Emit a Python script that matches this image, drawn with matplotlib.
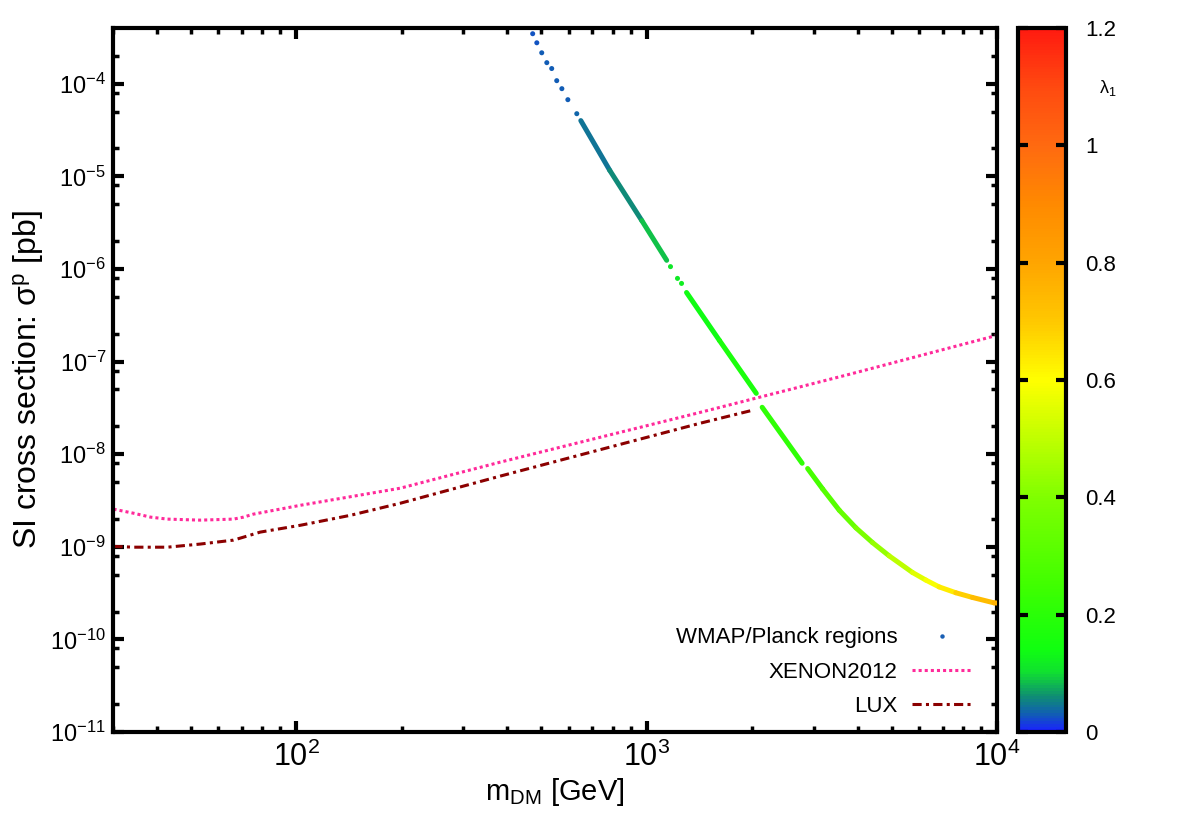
import numpy as np
import matplotlib
matplotlib.use("Agg")
import matplotlib.pyplot as plt
from matplotlib.colors import LinearSegmentedColormap, Normalize
from matplotlib.collections import LineCollection
from matplotlib.lines import Line2D
from matplotlib.ticker import LogLocator, FixedLocator, NullFormatter

plt.rcParams["font.family"] = ["Liberation Sans", "DejaVu Sans"]
plt.rcParams["mathtext.fontset"] = "custom"
plt.rcParams["mathtext.rm"] = "Liberation Sans"
plt.rcParams["mathtext.default"] = "regular"

# --- datos ---
# puntos aislados WMAP/Planck
dots_m = [473, 486, 502, 519, 536, 554, 573, 596, 632, 1170, 1225, 1258]
dots_sigma = [3.47e-4, 2.77e-4, 2.16e-4, 1.69e-4, 1.46e-4, 1.08e-4, 8.85e-5,
              6.73e-5, 4.75e-5, 1.06e-6, 7.91e-7, 6.98e-7]
dots_lam = [0.028, 0.028, 0.029, 0.029, 0.030, 0.030, 0.031, 0.032, 0.034,
            0.11, 0.115, 0.12]

# tramos continuos WMAP/Planck
segA_m = [649, 785, 969, 1141]
segA_sigma = [4.0e-5, 1.16e-5, 3.33e-6, 1.24e-6]
segA_lam = [0.038, 0.05, 0.07, 0.10]

segB_m = [1300, 1614, 2056]
segB_sigma = [5.57e-7, 1.69e-7, 4.54e-8]
segB_lam = [0.125, 0.15, 0.18]

segC_m = [2137, 2779]
segC_sigma = [3.21e-8, 7.98e-9]
segC_lam = [0.19, 0.24]

segD_m = [2881, 3179, 3547, 3958, 4413, 4923, 5738, 6266, 6835, 7627, 8502, 9806, 10000]
segD_sigma = [7.0e-9, 4.22e-9, 2.48e-9, 1.60e-9, 1.11e-9, 7.98e-10, 5.28e-10, 4.37e-10,
              3.69e-10, 3.19e-10, 2.84e-10, 2.48e-10, 2.47e-10]
segD_lam = [0.25, 0.28, 0.32, 0.36, 0.41, 0.46, 0.53, 0.57, 0.61, 0.66, 0.71, 0.76, 0.77]

# XENON2012
xenon_m = [30.1, 34.4, 38.4, 42.9, 53.2, 66.2, 70.7, 75.4, 103, 198, 381, 1387, 3787, 10000]
xenon_sigma = [2.55e-9, 2.30e-9, 2.09e-9, 1.99e-9, 1.94e-9, 1.99e-9, 2.09e-9, 2.25e-9,
               2.81e-9, 4.29e-9, 8.18e-9, 2.76e-8, 7.28e-8, 1.92e-7]

# LUX
lux_m = [30.1, 34.4, 38.4, 42.9, 53.2, 66.2, 70.7, 78.9, 103, 143, 198, 381, 1416, 2005]
lux_sigma = [1.01e-9, 9.9e-10, 9.9e-10, 9.9e-10, 1.07e-9, 1.18e-9, 1.27e-9, 1.44e-9,
             1.71e-9, 2.19e-9, 2.95e-9, 5.78e-9, 2.15e-8, 2.98e-8]

# paleta (lambda, color)
pal_lam = [0.0, 0.03, 0.06, 0.10, 0.14, 0.25, 0.40, 0.50, 0.60, 0.70, 0.80, 0.90, 1.00, 1.10, 1.20]
pal_col = ["#1a22ff", "#1060b0", "#0f9070", "#10e030", "#10ff10", "#40ff00", "#80ff00",
           "#c0ff00", "#ffff00", "#ffc800", "#ffa500", "#ff8a00", "#ff6a10", "#ff4a10", "#ff1a10"]

y_ticks = [1e-11, 1e-10, 1e-9, 1e-8, 1e-7, 1e-6, 1e-5, 1e-4]
cb_ticks = [0, 0.2, 0.4, 0.6, 0.8, 1.0, 1.2]
cb_labels = ["0", "0.2", "0.4", "0.6", "0.8", "1", "1.2"]

LAM_MAX = 1.2
cmap = LinearSegmentedColormap.from_list(
    "lam", [(v / LAM_MAX, c) for v, c in zip(pal_lam, pal_col)])
norm = Normalize(0, LAM_MAX)

fig = plt.figure(figsize=(11.86, 8.30), dpi=100)
ax = fig.add_axes([113 / 1186, 98 / 830, 884 / 1186, 704 / 830])
cax = fig.add_axes([1018 / 1186, 98 / 830, 48 / 1186, 704 / 830])

# tramos continuos coloreados por lambda
for m, s, lam in [(segA_m, segA_sigma, segA_lam), (segB_m, segB_sigma, segB_lam),
                  (segC_m, segC_sigma, segC_lam), (segD_m, segD_sigma, segD_lam)]:
    pts = np.column_stack([m, s])
    segs = np.stack([pts[:-1], pts[1:]], axis=1)
    lam = np.asarray(lam)
    lc = LineCollection(segs, colors=cmap(norm(0.5 * (lam[:-1] + lam[1:]))),
                        linewidths=3.6, capstyle="round", zorder=3)
    ax.add_collection(lc)

ax.scatter(dots_m, dots_sigma, c=dots_lam, cmap=cmap, norm=norm, s=13,
           linewidths=0, zorder=3)

ax.plot(xenon_m, xenon_sigma, color="#ff2a9a", lw=2.2, ls=(0, (1, 1)), zorder=2)
ax.plot(lux_m, lux_sigma, color="#8b0000", lw=2.2, ls=(0, (3, 1.4, 1, 1.4)), zorder=2)

ax.set_xscale("log")
ax.set_yscale("log")
ax.set_xlim(30, 1e4)
ax.set_ylim(1e-11, 4e-4)

ax.xaxis.set_major_locator(FixedLocator([1e2, 1e3, 1e4]))
ax.xaxis.set_minor_locator(LogLocator(base=10, subs=np.arange(2, 10)))
ax.xaxis.set_minor_formatter(NullFormatter())
ax.yaxis.set_major_locator(FixedLocator(y_ticks))
ax.yaxis.set_minor_locator(LogLocator(base=10, subs=(2, 5, 8), numticks=20))
ax.yaxis.set_minor_formatter(NullFormatter())

ax.tick_params(which="both", direction="in", top=True, right=True)
ax.tick_params(which="major", length=8, width=3)
ax.tick_params(which="minor", length=4, width=2.5)
ax.tick_params(axis="x", which="major", labelsize=22, pad=7)
ax.tick_params(axis="y", which="major", labelsize=17, pad=5)
for sp in ax.spines.values():
    sp.set_linewidth(3)

ax.set_xlabel("m$_{DM}$ [GeV]", fontsize=21)
ax.set_ylabel("SI cross section: σ$^{p}$ [pb]", fontsize=23)
ax.xaxis.set_label_coords(0.5, -0.062)
ax.yaxis.set_label_coords(-0.076, 0.5)

handles = [
    Line2D([], [], ls="none", marker="o", ms=3.2, mew=0, color="#1a5fb4"),
    Line2D([], [], color="#ff2a9a", lw=2.2, ls=(0, (1, 1))),
    Line2D([], [], color="#8b0000", lw=2.2, ls=(0, (3, 1.4, 1, 1.4))),
]
ax.legend(handles, ["WMAP/Planck regions", "XENON2012", "LUX"], loc="lower right",
          bbox_to_anchor=(0.985, 0.006), frameon=False, markerfirst=False,
          fontsize=16, borderpad=0, handlelength=2.75, handletextpad=0.63,
          labelspacing=0.59)

# barra de color
sm = plt.cm.ScalarMappable(norm=norm, cmap=cmap)
cb = fig.colorbar(sm, cax=cax, ticks=cb_ticks)
cb.ax.set_yticklabels(cb_labels)
cb.outline.set_linewidth(3)
cb.ax.tick_params(direction="in", left=True, right=True, length=7, width=3,
                  labelsize=16, pad=14)
cb.ax.minorticks_off()
fig.text(1108 / 1186, 1 - 88 / 830, "λ$_1$", fontsize=13, ha="center", va="center")

fig.savefig("out.png", dpi=100)
